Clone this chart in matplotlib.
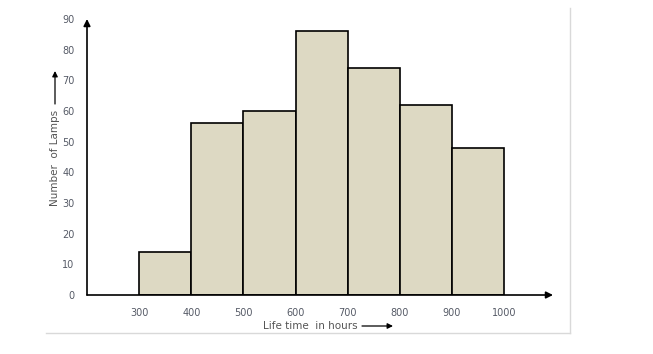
import matplotlib.pyplot as plt
from matplotlib.lines import Line2D

# class edges (hours) and counts
edges = [300, 400, 500, 600, 700, 800, 900, 1000]
counts = [14, 56, 60, 86, 74, 62, 48]
yticks = [0, 10, 20, 30, 40, 50, 60, 70, 80, 90]

W, H = 653, 354
fig = plt.figure(figsize=(W / 100, H / 100), dpi=100)

# axes box in pixels: y axis at x=87, x axis at y=295, top arrow at y=19
l, r, t, b = 87, 553, 19, 295
ax = fig.add_axes([l / W, 1 - b / H, (r - l) / W, (b - t) / H])
ax.set_xlim(200, 1094)
ax.set_ylim(0, 90)

lefts = edges[:-1]
widths = [edges[i + 1] - edges[i] for i in range(len(counts))]
ax.bar(lefts, counts, width=widths, align='edge', color='#ddd9c3',
       edgecolor='black', linewidth=1.2, zorder=2)

for s in ax.spines.values():
    s.set_visible(False)

ax.set_xticks(edges)
ax.set_yticks(yticks)
ax.tick_params(length=0, labelsize=7, labelcolor='#555a66')
ax.tick_params(axis='x', pad=9)
ax.tick_params(axis='y', pad=9)

# axis arrows
arr = dict(arrowstyle='-|>', color='black', lw=1.2, mutation_scale=10,
           shrinkA=0, shrinkB=0)
ax.annotate('', xy=(1, 0), xytext=(0, 0), xycoords='axes fraction',
            arrowprops=arr, zorder=3)
ax.annotate('', xy=(0, 1), xytext=(0, 0), xycoords='axes fraction',
            arrowprops=arr, zorder=3)

# axis titles with small arrows
fig.text(55 / W, 1 - 158 / H, 'Number  of Lamps', rotation=90, ha='center',
         va='center', fontsize=7.5, color='#555555')
fig.text(310 / W, 1 - 326 / H, 'Life time  in hours', ha='center',
         va='center', fontsize=7.5, color='#555555')
small = dict(arrowstyle='-|>', color='black', lw=0.9, mutation_scale=8,
             shrinkA=0, shrinkB=0)
ax.annotate('', xy=(55 / W, 1 - 71 / H), xytext=(55 / W, 1 - 104 / H),
            xycoords='figure fraction', arrowprops=small)
ax.annotate('', xy=(393 / W, 1 - 326 / H), xytext=(362 / W, 1 - 326 / H),
            xycoords='figure fraction', arrowprops=small)

# light frame on right and bottom
fig.add_artist(Line2D([570 / W, 570 / W], [1 - 8 / H, 1 - 333 / H],
                      color='#d9d9d9', lw=1))
fig.add_artist(Line2D([46 / W, 570 / W], [1 - 333 / H, 1 - 333 / H],
                      color='#d9d9d9', lw=1))

fig.savefig('out.png', dpi=100)
